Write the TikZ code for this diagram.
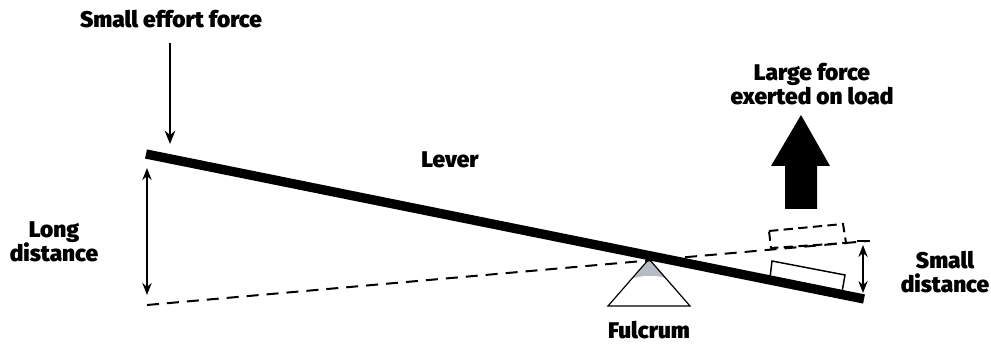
\documentclass[tikz,border=0pt]{standalone}
\usepackage{fontspec}
\setmainfont{Fira Sans}[BoldFont=* Black]
\usepackage{tikz}
\usetikzlibrary{arrows.meta,calc}
\definecolor{Pivot}{HTML}{B6BBC3}
\tikzset{lbl/.style={font=\bfseries\fontsize{17}{18.5}\selectfont,align=center,inner sep=0pt},
  dim/.style={line width=1.1pt,{Stealth[length=9pt,width=7pt]}-{Stealth[length=9pt,width=7pt]}},
  dashln/.style={line width=1.5pt,dash pattern=on 9pt off 6pt}}
\begin{document}
\begin{tikzpicture}[x=0.75pt,y=-0.75pt,>=Stealth]
  \useasboundingbox (0,0) rectangle (991,345);
  % points of the lever
  \coordinate (lvA) at (146,154);
  \coordinate (lvB) at (864,299);
  \coordinate (piv) at (649,259);
  \coordinate (dsA) at (147,305);
  \coordinate (dsB) at (868,241);
  % fulcrum
  \fill[Pivot] (piv) -- (634,278) .. controls (645,275) and (655,275) .. (666,278) -- cycle;
  \draw[line width=0.9pt] (piv) -- (608,306) -- (690,306) -- cycle;
  % dashed line and boxes
  \draw[dashln] (dsA) -- (dsB);
  \draw[line width=1.5pt,dash pattern=on 7pt off 4pt] (769,231) -- (843,224) -- (846,243) -- (771,248) -- cycle;
  \draw[line width=1.1pt,fill=white] (772,261) -- (845,275) -- (842,292) -- (770,278) -- cycle;
  % lever
  \draw[line width=7pt] (lvA) -- (lvB);
  % arrows
  \coordinate (efT) at (170,43);
  \coordinate (efB) at (170,144);
  \draw[line width=1.3pt,-{Stealth[length=10pt,width=8pt]}] (efT) -- (efB);
  \coordinate (ldT) at (147,168);
  \coordinate (ldB) at (147,295);
  \draw[dim] (ldT) -- (ldB);
  \coordinate (sdT) at (863,245);
  \coordinate (sdB) at (863,293);
  \draw[dim] (sdT) -- (sdB);
  \draw[line width=0.9pt] (857,241) -- (870,241);
  % big arrow
  \fill (785,209) -- (785,166) -- (771,166) -- (801,115) -- (830,166) -- (817,166) -- (817,209) -- cycle;
  % labels
  \node[lbl] (ef) at (171,19) {Small effort force};
  \node[lbl] (lf) at (812,84) {Large force\\exerted on load};
  \node[lbl] (lv) at (450,160) {Lever};
  \node[lbl] (ld) at (54,242) {Long\\distance};
  \node[lbl] (sd) at (945,272) {Small\\distance};
  \node[lbl] (fl) at (649,330) {Fulcrum};
\end{tikzpicture}
\end{document}
